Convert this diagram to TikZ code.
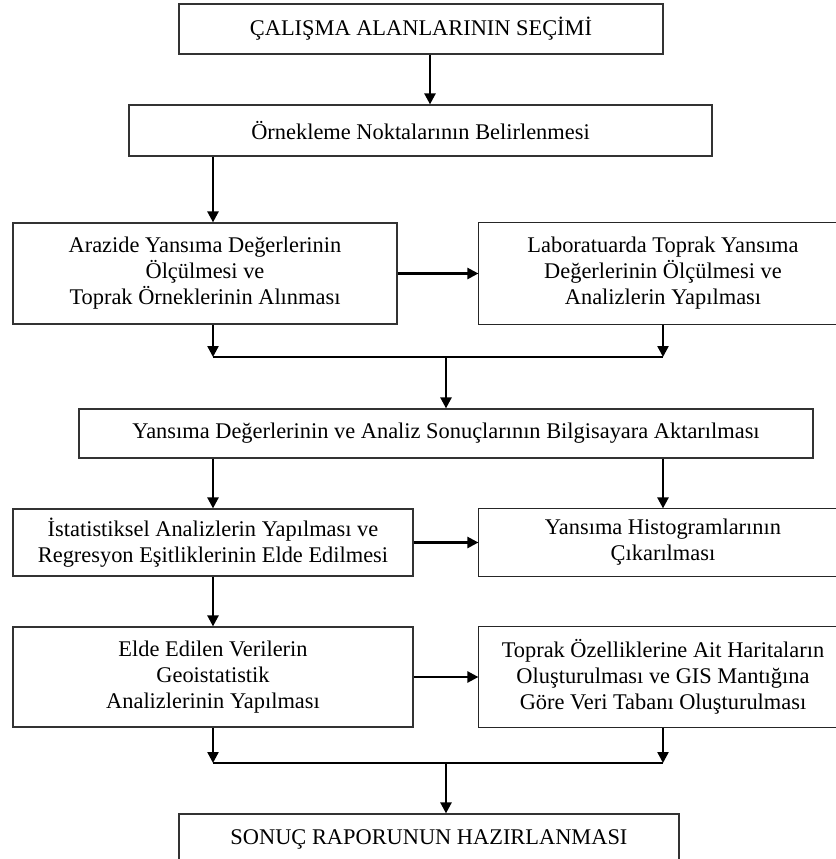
\documentclass[tikz,border=0pt]{standalone}
\usepackage{fontspec}
\setmainfont{Liberation Serif}
\usetikzlibrary{arrows.meta}
\begin{document}
\begin{tikzpicture}[
    x=1pt, y=-1pt,
    box/.style={draw=black!80, line width=1.2pt, align=center, inner sep=2pt,
        font=\fontsize{22.4}{26}\selectfont},
    openbox/.style={box, draw=none},
    frame/.style={draw=black!85, line width=1.4pt},
    arr/.style={draw, line width=2.4pt, -{Triangle[length=11pt,width=11pt]}},
    link/.style={draw, line width=1.6pt}
]
\useasboundingbox (0,0) rectangle (835,859);

\node[box, minimum width=484pt, minimum height=50pt] (secim) at (421,29) {ÇALIŞMA ALANLARININ SEÇİMİ};
\node[box, minimum width=583pt, minimum height=51pt] (nokta) at (420.5,130.5) {Örnekleme Noktalarının Belirlenmesi};
\node[box, minimum width=384pt, minimum height=101pt] (arazi) at (205,273.5) {Arazide Yansıma Değerlerinin\\Ölçülmesi ve\\Toprak Örneklerinin Alınması};
\node[openbox, minimum width=368pt, minimum height=101pt] (lab) at (663,273.5) {Laboratuarda Toprak Yansıma\\Değerlerinin Ölçülmesi ve\\Analizlerin Yapılması};
\node[box, minimum width=734pt, minimum height=49pt] (aktar) at (446,433.5) {Yansıma Değerlerinin ve Analiz Sonuçlarının Bilgisayara Aktarılması};
\node[box, minimum width=400pt, minimum height=67pt] (istat) at (213,542.5) {İstatistiksel Analizlerin Yapılması ve\\Regresyon Eşitliklerinin Elde Edilmesi};
\node[openbox, minimum width=368pt, minimum height=67pt] (histo) at (663,542.5) {Yansıma Histogramlarının\\Çıkarılması};
\node[box, minimum width=400pt, minimum height=100pt] (geo) at (213,677) {Elde Edilen Verilerin\\Geoistatistik\\Analizlerinin Yapılması};
\node[openbox, minimum width=368pt, minimum height=100pt] (harita) at (663,677) {Toprak Özelliklerine Ait Haritaların\\Oluşturulması ve GIS Mantığına\\Göre Veri Tabanı Oluşturulması};
\node[box, minimum width=500pt, minimum height=50pt] (sonuc) at (429,839) {SONUÇ RAPORUNUN HAZIRLANMASI};

% right boxes run off the page edge
\foreach \b in {lab, histo, harita}
    \draw[frame] ([xshift=60pt]\b.north east) -- (\b.north west) -- (\b.south west) -- ([xshift=60pt]\b.south east);

% join points
\coordinate (k0) at (430,0);
\coordinate (j1l) at (213,357);
\coordinate (j1r) at (663,357);
\coordinate (j1c) at (446,357);
\coordinate (j2l) at (213,763);
\coordinate (j2r) at (663,763);
\coordinate (j2c) at (446,763);

\draw[arr] (secim.south -| k0) -- (nokta.north -| k0);
\draw[arr] (nokta.south -| istat) -- (arazi.north -| istat);
\draw[arr] (arazi.east) -- (lab.west);
\draw[arr] (arazi.south -| j1l) -- (j1l);
\draw[arr] (lab.south) -- (j1r);
\draw[link] (j1l) -- (j1r);
\draw[arr] (j1c) -- (aktar.north);
\draw[arr] (aktar.south -| istat) -- (istat.north);
\draw[arr] (aktar.south -| histo) -- (histo.north);
\draw[arr] (istat.east) -- (histo.west);
\draw[arr] (istat.south) -- (geo.north);
\draw[arr] (geo.east) -- (harita.west);
\draw[arr] (geo.south) -- (j2l);
\draw[arr] (harita.south) -- (j2r);
\draw[link] (j2l) -- (j2r);
\draw[arr] (j2c) -- (j2c |- sonuc.north);
\end{tikzpicture}
\end{document}
